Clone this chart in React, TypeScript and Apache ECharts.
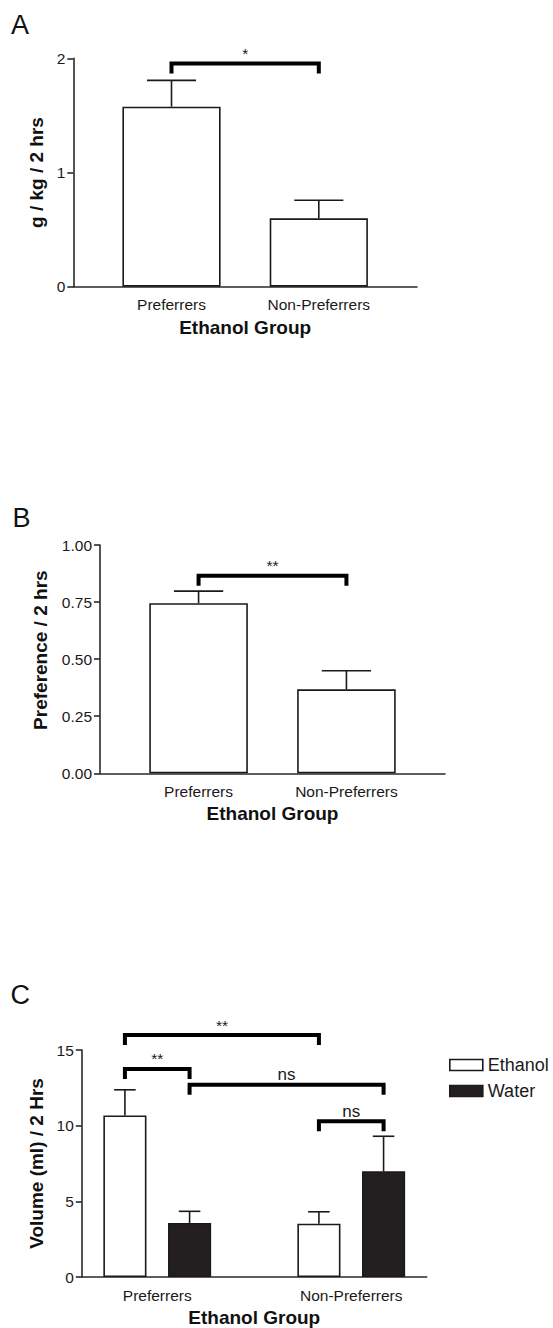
import React, { useEffect, useRef } from "react";
import * as echarts from "echarts";

const FONT = "'Liberation Sans', Arial, Helvetica, sans-serif";
const INK = "#1a1a1a";
const AXIS = "#2a2a2a";
const WATER = "#231f20";

// ---------- Panel A : ethanol dose ----------
const groupsA = ["Preferrers", "Non-Preferrers"];
const doseA = [1.576, 0.599];
const doseSemA = [0.231, 0.158];
const sigA = [{ from: 0, to: 1, y: 1.954, label: "*" }];

// ---------- Panel B : preference ----------
const groupsB = ["Preferrers", "Non-Preferrers"];
const prefB = [0.745, 0.368];
const prefSemB = [0.053, 0.081];
const sigB = [{ from: 0, to: 1, y: 0.865, label: "**" }];

// ---------- Panel C : volume ----------
const groupsC = ["Preferrers", "Non-Preferrers"];
const fluidsC = ["Ethanol", "Water"];
const ethanolC = [10.68, 3.52];
const ethanolSemC = [1.69, 0.79];
const waterC = [3.57, 6.98];
const waterSemC = [0.77, 2.32];
// [group, fluid] -> [group, fluid]
const sigC = [
  { from: [0, 0], to: [1, 0], y: 15.99, label: "**" },
  { from: [0, 0], to: [0, 1], y: 13.75, label: "**" },
  { from: [0, 1], to: [1, 1], y: 12.7, label: "ns" },
  { from: [1, 0], to: [1, 1], y: 10.29, label: "ns" },
];

// layout in axis units (bar width = 2 units, gap = 1 unit)
const posAB = (i: number) => 2 + 3 * i;
const posC = (g: number, s: number) => 2 + 9 * g + 3 * s;
const groupPosC = (g: number) => 3.5 + 9 * g;

const tickText = { fontSize: 15.5, color: INK, fontFamily: FONT };
const titleText = { fontSize: 19, fontWeight: "bold" as const, color: "#111", fontFamily: FONT };

function xAxisFor(gridIndex: number, max: number, positions: number[], labels: string[]) {
  return {
    type: "value",
    gridIndex,
    min: 0,
    max,
    axisLine: { show: true, onZero: false, lineStyle: { color: AXIS, width: 1.6 } },
    axisTick: { show: false },
    splitLine: { show: false },
    axisLabel: {
      ...tickText,
      margin: 10,
      customValues: positions,
      formatter: (v: number) => {
        const k = positions.findIndex((p) => Math.abs(p - v) < 1e-6);
        return k >= 0 ? labels[k] : "";
      },
    },
    name: "Ethanol Group",
    nameLocation: "middle",
    nameGap: 31,
    nameTextStyle: titleText,
  };
}

function yAxisFor(
  gridIndex: number,
  max: number,
  interval: number,
  name: string,
  nameGap: number,
  fmt?: (v: number) => string,
  padding?: number[]
) {
  return {
    type: "value",
    gridIndex,
    min: 0,
    max,
    interval,
    axisLine: { show: true, onZero: false, lineStyle: { color: AXIS, width: 1.6 } },
    axisTick: { show: true, length: 6, lineStyle: { color: AXIS, width: 1.6 } },
    splitLine: { show: false },
    axisLabel: { ...tickText, margin: 8, formatter: fmt },
    name,
    nameLocation: "middle",
    nameGap,
    nameTextStyle: { ...titleText, padding: padding || 0 },
  };
}

function errorSeries(axis: number, pts: number[][]) {
  return {
    type: "custom",
    xAxisIndex: axis,
    yAxisIndex: axis,
    silent: true,
    z: 5,
    encode: { x: 0, y: 1 },
    data: pts,
    renderItem: (_p: any, api: any) => {
      const x = api.value(0);
      const m = api.value(1);
      const e = api.value(2);
      const base = api.coord([x, m]);
      const top = api.coord([x, m + e]);
      const l = api.coord([x - 0.5, m + e]);
      const r = api.coord([x + 0.5, m + e]);
      const st = { stroke: INK, lineWidth: 1.6 };
      return {
        type: "group",
        children: [
          { type: "line", shape: { x1: base[0], y1: base[1], x2: top[0], y2: top[1] }, style: st },
          { type: "line", shape: { x1: l[0], y1: l[1], x2: r[0], y2: r[1] }, style: st },
        ],
      };
    },
  };
}

function bracketSeries(axis: number, items: { x1: number; x2: number; y: number; label: string }[]) {
  return {
    type: "custom",
    xAxisIndex: axis,
    yAxisIndex: axis,
    silent: true,
    clip: false,
    z: 6,
    encode: { x: [0, 1], y: 2 },
    data: items.map((b) => [b.x1, b.x2, b.y]),
    renderItem: (params: any, api: any) => {
      const a = api.coord([api.value(0), api.value(2)]);
      const b = api.coord([api.value(1), api.value(2)]);
      const leg = 10;
      const label = items[params.dataIndex].label;
      return {
        type: "group",
        children: [
          {
            type: "polyline",
            shape: {
              points: [
                [a[0], a[1] + leg],
                [a[0], a[1]],
                [b[0], b[1]],
                [b[0], b[1] + leg],
              ],
            },
            style: { stroke: "#000", lineWidth: 4, fill: null, lineJoin: "miter", lineCap: "butt" },
          },
          {
            type: "text",
            x: (a[0] + b[0]) / 2,
            y: a[1] - 10,
            style: {
              text: label,
              fontSize: label === "ns" ? 17 : 15.5,
              fontFamily: FONT,
              fill: INK,
              align: "center",
              verticalAlign: "middle",
            },
          },
        ],
      };
    },
  };
}

const whiteBar = { color: "#ffffff", borderColor: INK, borderWidth: 1.6 };
const darkBar = { color: WATER, borderColor: INK, borderWidth: 1.6 };

export default function App() {
  const ref = useRef<HTMLDivElement>(null);

  useEffect(() => {
    if (!ref.current) return;
    const chart = echarts.init(ref.current, undefined, { renderer: "svg" });

    const posA = groupsA.map((_, i) => posAB(i));
    const posB = groupsB.map((_, i) => posAB(i));
    const gpC = groupsC.map((_, g) => groupPosC(g));

    const option: any = {
      animation: false,
      backgroundColor: "#ffffff",
      textStyle: { fontFamily: FONT },
      grid: [
        { left: 73.3, top: 58.3, width: 343.7, height: 228.4 },
        { left: 100, top: 545, width: 345, height: 228.3 },
        { left: 81.8, top: 1050, width: 344.9, height: 228.3 },
      ],
      xAxis: [
        xAxisFor(0, 7, posA, groupsA),
        xAxisFor(1, 7, posB, groupsB),
        xAxisFor(2, 16, gpC, groupsC),
      ],
      yAxis: [
        yAxisFor(0, 2, 1, "g / kg / 2 hrs", 21),
        yAxisFor(1, 1, 0.25, "Preference / 2 hrs", 50, (v: number) => v.toFixed(2), [0, 0, 0, 18]),
        yAxisFor(2, 15, 5, "Volume (ml) / 2 Hrs", 31),
      ],
      legend: {
        orient: "vertical",
        left: 449,
        top: 1056,
        padding: 0,
        itemWidth: 33,
        itemHeight: 11,
        itemGap: 8,
        icon: "rect",
        selectedMode: false,
        textStyle: { fontSize: 18, color: INK, fontFamily: FONT },
        data: [
          { name: fluidsC[0], itemStyle: whiteBar },
          { name: fluidsC[1], itemStyle: darkBar },
        ],
      },
      graphic: [
        { type: "text", x: 11, y: 24.7, style: { text: "A", fontSize: 27, fontFamily: FONT, fill: "#111", align: "left", verticalAlign: "middle" } },
        { type: "text", x: 12.5, y: 518.3, style: { text: "B", fontSize: 27, fontFamily: FONT, fill: "#111", align: "left", verticalAlign: "middle" } },
        { type: "text", x: 10.5, y: 994.7, style: { text: "C", fontSize: 27, fontFamily: FONT, fill: "#111", align: "left", verticalAlign: "middle" } },
      ],
      series: [
        // A
        {
          name: "Dose",
          type: "bar",
          xAxisIndex: 0,
          yAxisIndex: 0,
          barWidth: "66.667%",
          itemStyle: whiteBar,
          silent: true,
          data: doseA.map((v, i) => [posAB(i), v]),
        },
        errorSeries(0, doseA.map((v, i) => [posAB(i), v, doseSemA[i]])),
        bracketSeries(0, sigA.map((s) => ({ x1: posAB(s.from), x2: posAB(s.to), y: s.y, label: s.label }))),
        // B
        {
          name: "Preference",
          type: "bar",
          xAxisIndex: 1,
          yAxisIndex: 1,
          barWidth: "66.667%",
          itemStyle: whiteBar,
          silent: true,
          data: prefB.map((v, i) => [posAB(i), v]),
        },
        errorSeries(1, prefB.map((v, i) => [posAB(i), v, prefSemB[i]])),
        bracketSeries(1, sigB.map((s) => ({ x1: posAB(s.from), x2: posAB(s.to), y: s.y, label: s.label }))),
        // C
        {
          name: fluidsC[0],
          type: "bar",
          xAxisIndex: 2,
          yAxisIndex: 2,
          barWidth: "66.667%",
          barGap: "-100%",
          itemStyle: whiteBar,
          silent: true,
          data: ethanolC.map((v, g) => [posC(g, 0), v]),
        },
        {
          name: fluidsC[1],
          type: "bar",
          xAxisIndex: 2,
          yAxisIndex: 2,
          barWidth: "66.667%",
          barGap: "-100%",
          itemStyle: darkBar,
          silent: true,
          data: waterC.map((v, g) => [posC(g, 1), v]),
        },
        errorSeries(
          2,
          [
            ...ethanolC.map((v, g) => [posC(g, 0), v, ethanolSemC[g]]),
            ...waterC.map((v, g) => [posC(g, 1), v, waterSemC[g]]),
          ]
        ),
        bracketSeries(
          2,
          sigC.map((s) => ({
            x1: posC(s.from[0], s.from[1]),
            x2: posC(s.to[0], s.to[1]),
            y: s.y,
            label: s.label,
          }))
        ),
      ],
    };

    chart.setOption(option);
    return () => chart.dispose();
  }, []);

  return (
    <div
      ref={ref}
      style={{ position: "absolute", left: 0, top: 0, width: 553, height: 1328, background: "#fff" }}
    />
  );
}
